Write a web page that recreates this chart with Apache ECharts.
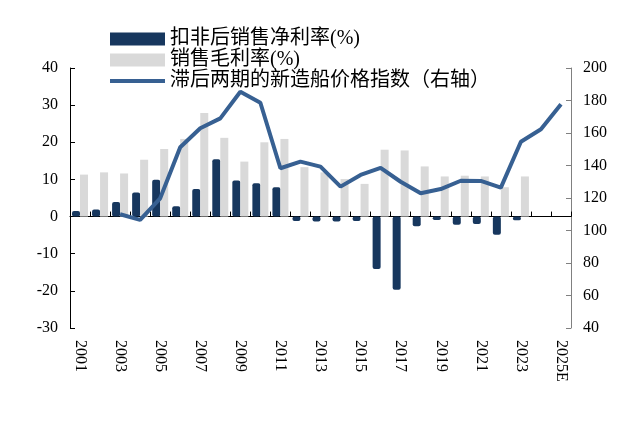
<!DOCTYPE html>
<html lang="zh">
<head>
<meta charset="UTF-8">
<title>chart</title>
<script src="https://cdn.jsdelivr.net/npm/echarts@6/dist/echarts.min.js"></script>
<style>
  html, body { margin: 0; padding: 0; background: #fff; }
  #main { width: 643px; height: 429px; }
</style>
</head>
<body>
<div id="main"></div>
<script type="text/javascript">
// 年份
var years = ['2001','2002','2003','2004','2005','2006','2007','2008','2009','2010',
             '2011','2012','2013','2014','2015','2016','2017','2018','2019','2020',
             '2021','2022','2023','2024','2025E'];
// 扣非后销售净利率(%)
var netMargin = [1.5, 1.9, 3.9, 6.5, 9.9, 2.8, 7.4, 15.4, 9.7, 9.0,
                 7.9, -1.2, -1.3, -1.3, -1.2, -14.1, -19.7, -2.6, -0.9, -2.2,
                 -2.0, -4.9, -1.0, null, null];
// 销售毛利率(%)
var grossMargin = [11.3, 11.9, 11.6, 15.3, 18.2, 20.9, 27.9, 21.2, 14.8, 20.0,
                   20.9, 13.3, 11.9, 10.1, 8.8, 18.0, 17.8, 13.5, 10.8, 11.0,
                   10.8, 7.9, 10.8, null, null];
// 滞后两期的新造船价格指数（右轴）
var priceIndex = [null, null, 110, 106.5, 119.8, 151.2, 162.9, 169.0, 185.4, 178.6,
                  138.3, 142.4, 139.3, 127.0, 134.2, 138.6, 130.0, 122.9, 125.5, 130.6,
                  130.5, 126.4, 154.6, 162.3, 177.7];

var font = "'Liberation Serif', 'Times New Roman', 'Noto Sans CJK SC', serif";

var myChart = echarts.init(document.getElementById('main'));

var option = {
    animation: false,
    textStyle: { fontFamily: font },
    grid: { left: 70, right: 72, top: 68, bottom: 101 },
    legend: {
        orient: 'vertical',
        left: 103,
        top: 24,
        itemWidth: 55,
        itemHeight: 13,
        itemGap: 1,
        textStyle: { fontFamily: font, fontSize: 20, color: '#000' },
        data: [
            { name: '扣非后销售净利率(%)', icon: 'rect' },
            { name: '销售毛利率(%)', icon: 'rect' },
            {
                name: '滞后两期的新造船价格指数（右轴）',
                itemStyle: { color: 'rgba(0,0,0,0)', borderColor: 'rgba(0,0,0,0)', borderWidth: 0 },
                lineStyle: { color: '#376092', width: 4 }
            }
        ]
    },
    xAxis: [
        {
            type: 'category',
            data: years,
            axisLine: { onZero: true, lineStyle: { color: '#000', width: 1 } },
            axisTick: { show: true, inside: true, length: 5, interval: 0, lineStyle: { color: '#000' } },
            axisLabel: { show: false }
        },
        {
            type: 'category',
            data: years,
            position: 'bottom',
            axisLine: { show: false, onZero: false },
            axisTick: { show: false },
            axisLabel: {
                interval: 1,
                rotate: -90,
                margin: 12,
                fontSize: 16,
                color: '#000',
                fontFamily: font
            }
        }
    ],
    yAxis: [
        {
            type: 'value',
            min: -30,
            max: 40,
            interval: 10,
            splitLine: { show: false },
            axisLine: { show: true, lineStyle: { color: '#000' } },
            axisTick: { show: true, inside: true, length: 5, lineStyle: { color: '#000' } },
            axisLabel: { fontSize: 16, color: '#000', margin: 12, fontFamily: font }
        },
        {
            type: 'value',
            min: 40,
            max: 200,
            interval: 20,
            position: 'right',
            splitLine: { show: false },
            axisLine: { show: true, lineStyle: { color: '#808080' } },
            axisTick: { show: true, inside: true, length: 5, lineStyle: { color: '#808080' } },
            axisLabel: { fontSize: 16, color: '#000', margin: 12, fontFamily: font }
        }
    ],
    series: [
        {
            name: '扣非后销售净利率(%)',
            type: 'bar',
            xAxisIndex: 0,
            yAxisIndex: 0,
            barWidth: 8,
            barGap: '0%',
            itemStyle: { color: '#17375e', borderRadius: 2 },
            data: netMargin
        },
        {
            name: '销售毛利率(%)',
            type: 'bar',
            xAxisIndex: 0,
            yAxisIndex: 0,
            barWidth: 8,
            barGap: '0%',
            itemStyle: { color: '#d9d9d9' },
            data: grossMargin
        },
        {
            name: '滞后两期的新造船价格指数（右轴）',
            type: 'line',
            xAxisIndex: 0,
            yAxisIndex: 1,
            symbol: 'none',
            z: 5,
            lineStyle: { color: '#376092', width: 4 },
            itemStyle: { color: '#376092' },
            data: priceIndex
        }
    ]
};

myChart.setOption(option);
</script>
</body>
</html>
